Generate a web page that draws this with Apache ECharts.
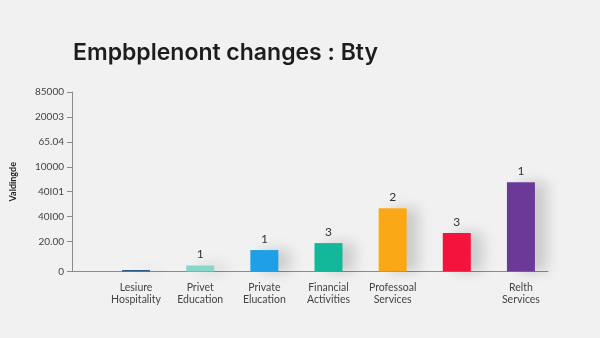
<!DOCTYPE html>
<html>
<head>
<meta charset="utf-8">
<script src="https://cdn.jsdelivr.net/npm/echarts@6/dist/echarts.min.js"></script>
<style>
  html, body { margin: 0; padding: 0; background: #f1f1f1; }
  #chart { width: 600px; height: 338px; }
</style>
</head>
<body>
<div id="chart"></div>
<script>
// Sector names shown under each bar (one sector has no caption)
const categories = [
  'Lesiure\nHospitality',
  'Privet\nEducation',
  'Private\nElucation',
  'Financial\nActivities',
  'Professoal\nServices',
  '',
  'Relth\nServices'
];
// Bar heights
const values = [600, 2400, 8600, 11400, 25400, 15400, 35800];
// Small numbers printed above the bars (none on the first)
const barNotes = [null, '1', '1', '3', '2', '3', '1'];
// Bar colours
const barColors = ['#2b5d8a', '#86d8cb', '#1e9fe6', '#13b89b', '#fba817', '#f4133d', '#6b3a98'];
// Y axis tick positions and the text printed at each
const tickValues = [0, 12000, 22000, 32000, 42000, 52000, 62000, 72000];
const tickLabels = ['0', '20.00', '40I00', '40I01', '10000', '65.04', '20003', '85000'];

const chart = echarts.init(document.getElementById('chart'), null, { renderer: 'canvas' });

const fontFamily = 'Lato, "Noto Sans", sans-serif';

chart.setOption({
  backgroundColor: '#f1f1f1',
  animation: false,
  title: {
    text: 'Empbplenont changes : Bty',
    left: 68,
    top: 37,
    textStyle: {
      fontFamily: 'Inter, "Noto Sans", sans-serif',
      fontWeight: 600,
      fontSize: 23,
      color: '#1d1d1d'
    }
  },
  grid: [
    { left: 104, right: 47, top: 92, bottom: 66.5 },
    { left: 72, right: 52, top: 92, bottom: 66.5 }
  ],
  xAxis: [
    {
      type: 'category',
      gridIndex: 0,
      data: categories,
      axisLine: { show: false },
      axisTick: { show: false },
      axisLabel: {
        color: '#444',
        fontFamily: fontFamily,
        fontSize: 10.5,
        lineHeight: 12,
        margin: 10,
        interval: 0
      }
    },
    {
      type: 'value',
      gridIndex: 1,
      min: 0,
      max: 1,
      axisLine: { show: true, lineStyle: { color: '#8a8a8a', width: 1 } },
      axisTick: { show: false },
      axisLabel: { show: false },
      splitLine: { show: false }
    }
  ],
  yAxis: [
    {
      type: 'value',
      gridIndex: 0,
      min: 0,
      max: 72000,
      offset: 32,
      name: 'Valdingde',
      nameLocation: 'middle',
      nameGap: 54,
      nameTextStyle: {
        color: '#222',
        fontFamily: fontFamily,
        fontSize: 9,
        fontWeight: 'bold'
      },
      axisLine: { show: true, lineStyle: { color: '#8a8a8a', width: 1 } },
      axisTick: {
        show: true,
        length: 5,
        lineStyle: { color: '#8a8a8a' },
        customValues: tickValues
      },
      axisLabel: {
        color: '#444',
        fontFamily: fontFamily,
        fontSize: 10,
        margin: 8,
        customValues: tickValues,
        formatter: function (v) {
          const i = tickValues.indexOf(v);
          return i >= 0 ? tickLabels[i] : '';
        }
      },
      splitLine: { show: false }
    },
    {
      type: 'value',
      gridIndex: 1,
      min: 0,
      max: 1,
      show: false
    }
  ],
  series: [
    {
      type: 'bar',
      xAxisIndex: 0,
      yAxisIndex: 0,
      barWidth: 28,
      data: values.map(function (v, i) {
        return {
          value: v,
          itemStyle: { color: barColors[i] },
          label: { show: barNotes[i] !== null }
        };
      }),
      itemStyle: {
        shadowColor: 'rgba(0,0,0,0.16)',
        shadowBlur: 14,
        shadowOffsetX: 12,
        shadowOffsetY: 0
      },
      label: {
        position: 'top',
        distance: 5,
        color: '#333',
        fontFamily: fontFamily,
        fontSize: 12,
        formatter: function (p) { return barNotes[p.dataIndex] || ''; }
      }
    }
  ]
});
</script>
</body>
</html>
